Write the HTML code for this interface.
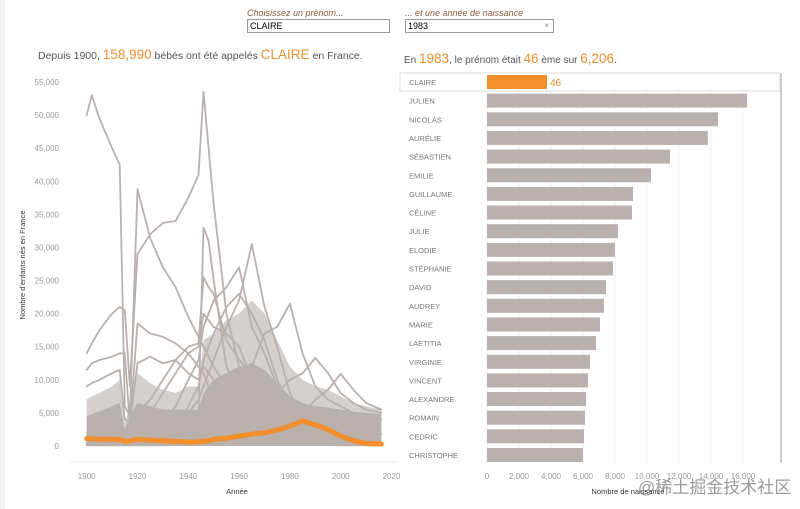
<!DOCTYPE html>
<html><head><meta charset="utf-8"><style>
body{margin:0;width:800px;height:509px;background:#fff;font-family:"Liberation Sans","Noto Sans CJK SC",sans-serif;overflow:hidden;position:relative}
.lbl{position:absolute;font-style:italic;font-size:9px;color:#8a5a3a}
.box{position:absolute;border:1px solid #999;height:12px;font-size:9px;line-height:12px;padding-left:2px;color:#000;background:#fff}
.t{position:absolute;font-size:10.5px;color:#555;white-space:nowrap}
.o{color:#f28e2b;font-size:13.5px}
</style></head><body>
<div style="position:absolute;left:0;top:0;width:5px;height:509px;background:#f2f2f2"></div>
<div class="lbl" style="left:247px;top:8px">Choisissez un prénom...</div>
<div class="box" style="left:247px;top:19px;width:139px">CLAIRE</div>
<div class="lbl" style="left:405px;top:8px">... et une année de naissance</div>
<div class="box" style="left:405px;top:19px;width:145px">1983<span style="position:absolute;right:4px;color:#888;font-size:8px">×</span></div>
<div class="t" style="left:38px;top:47px">Depuis 1900, <span class="o">158,990</span> bébés ont été appelés <span class="o">CLAIRE</span> en France.</div>
<div class="t" style="left:404px;top:51px;font-size:10px">En <span class="o">1983</span>, le prénom était <span class="o">46</span> ème sur <span class="o">6,206</span>.</div>
<svg id="lc" width="800" height="509" style="position:absolute;left:0;top:0"></svg>
<div style="position:absolute;left:638px;top:473px;font-size:17px;white-space:nowrap;color:rgba(120,120,120,.75)">@稀土掘金技术社区</div>
<script>
const years=[1900,1902,1905,1910,1913,1915,1917,1920,1925,1930,1935,1940,1944,1946,1948,1950,1955,1960,1965,1970,1975,1980,1985,1990,1995,2000,2005,2010,2016];
const yTicks=[0,5000,10000,15000,20000,25000,30000,35000,40000,45000,50000,55000];
const xTicks=[1900,1920,1940,1960,1980,2000,2020];
const denseTop=[7000,7500,8000,9000,10000,3500,6000,11000,9500,8500,8000,9000,9000,16000,16500,17000,19000,20000,22000,20000,16000,12000,10000,9000,8500,7500,6500,6000,5500];
const denseSolid=[4500,4800,5200,6000,6500,2500,4500,6500,6000,5500,5500,5500,5500,8000,9000,10000,11000,12000,12500,11500,9500,7500,6500,6000,5800,5500,5200,5000,4800];
const serMarie=[50000,53000,49500,45000,42500,6000,4500,38800,31400,27000,24000,19500,16500,15000,13500,12000,9000,7000,5000,3500,2500,1800,1200,900,600,500,400,300,200];
const serJean=[14000,15500,17500,20000,21000,20500,9000,29000,32000,33700,34000,37500,41000,53500,45000,36500,20000,12000,8000,5000,3500,2000,1200,800,600,400,300,250,200];
const serMichel=[1500,1600,1800,2000,2200,1200,1800,2500,3000,3200,3500,4000,5000,33000,31000,25000,12000,8000,6000,4000,3000,2000,1200,800,600,400,300,250,200];
const serAndre=[11500,12500,13000,13500,14000,14000,3000,18500,17000,16500,15500,14000,12000,11000,9000,7000,5000,3500,2500,1500,1000,700,500,400,300,200,200,150,100];
const serPierre=[9000,9500,10000,11000,11500,4000,3500,12500,13500,12500,13000,15000,15500,25500,24000,23000,16000,13000,11000,9000,7000,5500,4500,3500,3000,2500,2200,2000,1800];
const serPhilippe=[300,300,400,500,600,400,500,800,1200,2000,3000,5000,7000,9000,11000,13000,18000,22000,30500,21000,15000,8000,4000,2000,1200,800,500,400,300];
const serAlain=[500,500,600,700,800,500,600,1000,2000,3500,6000,10000,13000,18000,20000,22000,24000,27000,18000,14000,9000,5000,2500,1500,800,500,400,300,200];
const serNicolas=[200,200,300,300,300,200,300,300,400,500,600,800,1000,1500,2000,2500,4000,7000,12000,17000,18000,21500,14000,9000,7000,6000,5000,4500,4000];
const serThomas=[300,300,300,400,400,300,300,400,500,500,500,600,600,700,800,900,1200,1800,3000,5000,8000,10000,11000,13300,11000,8000,6500,5500,5000];
const serLea=[100,100,100,100,100,100,100,100,100,100,150,200,200,200,300,300,400,500,600,800,1500,3000,5000,7000,8500,10900,8500,6500,5500];
const serMonique=[2000,2500,3000,3500,4000,2000,3000,5000,7000,10000,13000,11000,10000,12000,11000,10000,7000,4000,2000,1000,600,400,300,200,150,100,100,100,100];
const serDaniel=[1000,1100,1200,1500,1800,1000,1500,3000,5000,8000,11000,14000,15000,20000,19000,18000,17000,15000,10000,6000,3500,2000,1000,600,400,300,200,200,100];
const serPatrick=[200,200,200,300,300,200,300,500,800,1500,3000,6000,9000,13000,15000,17000,21000,23000,20000,16000,10000,6000,3000,1500,800,500,300,200,200];
const serClaire=[1100,1100,1050,1000,1000,700,800,1000,900,800,700,600,650,700,800,1000,1200,1500,1800,2000,2400,3000,3800,3200,2500,1500,800,400,300];
const NS='http://www.w3.org/2000/svg';
const svg=document.getElementById('lc');
const X0=86.7,PXY=2.54,Y0=446,PXV=364/55000;
function xs(y){return X0+(y-1900)*PXY;}
function ys(v){return Y0-v*PXV;}
function mk(tag,attrs){const e=document.createElementNS(NS,tag);for(const k in attrs)e.setAttribute(k,attrs[k]);svg.appendChild(e);return e;}
yTicks.forEach(v=>{const t=mk('text',{x:59,y:ys(v)+3,'text-anchor':'end','font-size':8,fill:'#999'});t.textContent=v.toLocaleString('en-US');

});
xTicks.forEach(v=>{const t=mk('text',{x:xs(v),y:479,'text-anchor':'middle','font-size':8,fill:'#999'});t.textContent=v;

});
let t=mk('text',{x:237,y:494,'text-anchor':'middle','font-size':7.5,fill:'#333'});t.textContent='Année';


t=mk('text',{x:0,y:0,'text-anchor':'middle','font-size':7.5,fill:'#333',transform:'translate(25,265) rotate(-90)'});t.textContent="Nombre d'enfants nés en France";


mk('line',{x1:70,y1:462,x2:398,y2:462,stroke:'#eee'});
function area(arr,op){let d='M'+xs(years[0])+','+ys(0);years.forEach((y,i)=>d+='L'+xs(y)+','+ys(arr[i]));d+='L'+xs(years[years.length-1])+','+ys(0)+'Z';return mk('path',{d:d,fill:'#bab0ac','fill-opacity':op});}
let a=area(denseTop,0.6);


a=area(denseSolid,1);


function line(arr,col,w){let d='';years.forEach((y,i)=>d+=(i?'L':'M')+xs(y).toFixed(1)+','+ys(arr[i]).toFixed(1));return mk('path',{d:d,fill:'none',stroke:col,'stroke-width':w,'stroke-linejoin':'round','stroke-linecap':'round'});}
const grays=[['marie',serMarie],['jean',serJean],['michel',serMichel],['andre',serAndre],['pierre',serPierre],['philippe',serPhilippe],['alain',serAlain],['nicolas',serNicolas],['thomas',serThomas],['lea',serLea],['monique',serMonique],['daniel',serDaniel],['patrick',serPatrick]];
grays.forEach(g=>{const p=line(g[1],'#bab0ac',1.8);

});
const pc=line(serClaire,'#f28e2b',5);


</script>
<svg id="bc" width="800" height="509" style="position:absolute;left:0;top:0;pointer-events:none"></svg>
<script>
const names=['CLAIRE','JULIEN','NICOLAS','AURÉLIE','SÉBASTIEN','EMILIE','GUILLAUME','CÉLINE','JULIE','ELODIE','STÉPHANIE','DAVID','AUDREY','MARIE','LAETITIA','VIRGINIE','VINCENT','ALEXANDRE','ROMAIN','CEDRIC','CHRISTOPHE'];
const births=[3750,16250,14440,13800,11440,10250,9125,9060,8190,8000,7875,7440,7310,7060,6810,6440,6310,6190,6125,6060,6000];
const bTicks=[0,2000,4000,6000,8000,10000,12000,14000,16000];
(function(){
const s=document.getElementById('bc');const NS='http://www.w3.org/2000/svg';
const BX=487,PX=0.016,R0=82,RS=18.65;
function mk(tag,at){const e=document.createElementNS(NS,tag);for(const k in at)e.setAttribute(k,at[k]);s.appendChild(e);return e;}
function bx(v){return BX+v*PX;}
bTicks.forEach(v=>{const l=mk('line',{x1:bx(v),y1:73,x2:bx(v),y2:463,stroke:'#f0f0f0'});


const t=mk('text',{x:bx(v),y:479,'text-anchor':'middle','font-size':8,fill:'#999'});t.textContent=v.toLocaleString('en-US');

});
let r=mk('rect',{x:400,y:73,width:380,height:18,fill:'#fff',stroke:'#ddd'});


let sb=mk('line',{x1:781,y1:73,x2:781,y2:463,stroke:'#ccc','stroke-width':2});


names.forEach((n,i)=>{const cy=R0+i*RS;
const t=mk('text',{x:409,y:cy+3,'font-size':7.5,fill:'#777'});t.textContent=n;


const b=mk('rect',{x:BX,y:cy-7,width:births[i]*PX,height:14,fill:i==0?'#f28e2b':'#bab0ac'});

});
const v=mk('text',{x:bx(births[0])+3,y:R0+4,'font-size':10,fill:'#f28e2b'});v.textContent='46';


const tt=mk('text',{x:628,y:494,'text-anchor':'middle','font-size':7.5,fill:'#333'});tt.textContent='Nombre de naissance';


})();
</script>
</body></html>
